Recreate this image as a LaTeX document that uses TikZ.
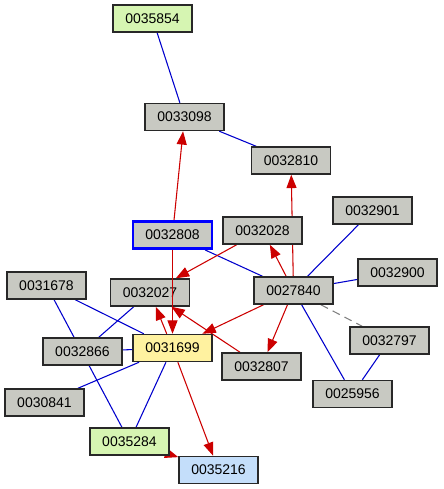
\documentclass[tikz,border=0pt]{standalone}
\usepackage{fontspec}
\setmainfont{Liberation Sans}
\usetikzlibrary{arrows.meta}
\pgfdeclarelayer{bg}
\pgfsetlayers{bg,main}
\definecolor{nodegray}{RGB}{200,201,194}
\definecolor{nodeyellow}{RGB}{255,242,160}
\definecolor{nodegreen}{RGB}{214,245,178}
\definecolor{nodeblue}{RGB}{196,222,250}
\definecolor{edgered}{RGB}{204,0,0}
\definecolor{edgeblue}{RGB}{0,0,204}
\definecolor{bordergray}{RGB}{40,40,40}
\begin{document}
\begin{tikzpicture}[x=0.75pt,y=-0.75pt,
  box/.style={draw=bordergray,line width=1.1pt,fill=nodegray,minimum width=59.25pt,minimum height=20.25pt,inner sep=0pt,font=\fontsize{10.5}{12}\selectfont},
  link/.style={draw=edgeblue,line width=0.8pt},
  dep/.style={draw=edgered,line width=0.8pt,-{Triangle[length=10pt,width=7.5pt]}},
  weak/.style={draw=gray,line width=0.8pt,dash pattern=on 6pt off 4pt}]
\useasboundingbox (0,0) rectangle (443,489);
\node[box,fill=nodegreen] (n35854) at (152.5,18.5) {0035854};
\node[box] (n33098) at (184.5,117) {0033098};
\node[box] (n32810) at (291,160.5) {0032810};
\node[box,draw=blue,line width=2.2pt] (n32808) at (172.5,235) {0032808};
\node[box] (n32028) at (262.5,230.5) {0032028};
\node[box] (n32027) at (150,292.5) {0032027};
\node[box] (n27840) at (293.5,290.5) {0027840};
\node[box] (n32901) at (372.5,210.5) {0032901};
\node[box] (n32900) at (397.5,272.5) {0032900};
\node[box] (n32797) at (389.5,340.5) {0032797};
\node[box] (n25956) at (352.5,394) {0025956};
\node[box] (n32807) at (261.5,366.5) {0032807};
\node[box,fill=nodeyellow] (n31699) at (172.5,348) {0031699};
\node[box] (n31678) at (46.5,285.5) {0031678};
\node[box] (n32866) at (82.5,351.5) {0032866};
\node[box] (n30841) at (44.5,402.5) {0030841};
\node[box,fill=nodegreen] (n35284) at (129.5,441.5) {0035284};
\node[box,fill=nodeblue] (n35216) at (218.5,470) {0035216};
\draw[dep] (n32808) -- (n31699);
\begin{pgfonlayer}{bg}
\draw[link] (n35854) -- (n33098);
\draw[link] (n33098) -- (n32810);
\draw[link] (n32808) -- (n27840);
\draw[link] (n27840) -- (n32901);
\draw[link] (n27840) -- (n32900);
\draw[link] (n27840) -- (n25956);
\draw[link] (n32797) -- (n25956);
\draw[weak] (n27840) -- (n32797);
\draw[link] (n31678) -- (n31699);
\draw[link] (n31678) -- (n35284);
\draw[link] (n32027) -- (n32866);
\draw[link] (n32866) -- (n31699);
\draw[link] (n31699) -- (n30841);
\draw[link] (n31699) -- (n35284);
\draw[dep] (n32808) -- (n33098);
\draw[dep] (n27840) -- (n32810);
\draw[dep] (n27840) -- (n32028);
\draw[dep] (n32028) -- (n32027);
\draw[dep] (n31699) -- (n32027);
\draw[dep] (n32807) -- (n32027);
\draw[dep] (n27840) -- (n31699);
\draw[dep] (n27840) -- (n32807);
\draw[dep] (n31699) -- (n35216);
\draw[dep] (n35284) -- (n35216);
\end{pgfonlayer}
\end{tikzpicture}
\end{document}
